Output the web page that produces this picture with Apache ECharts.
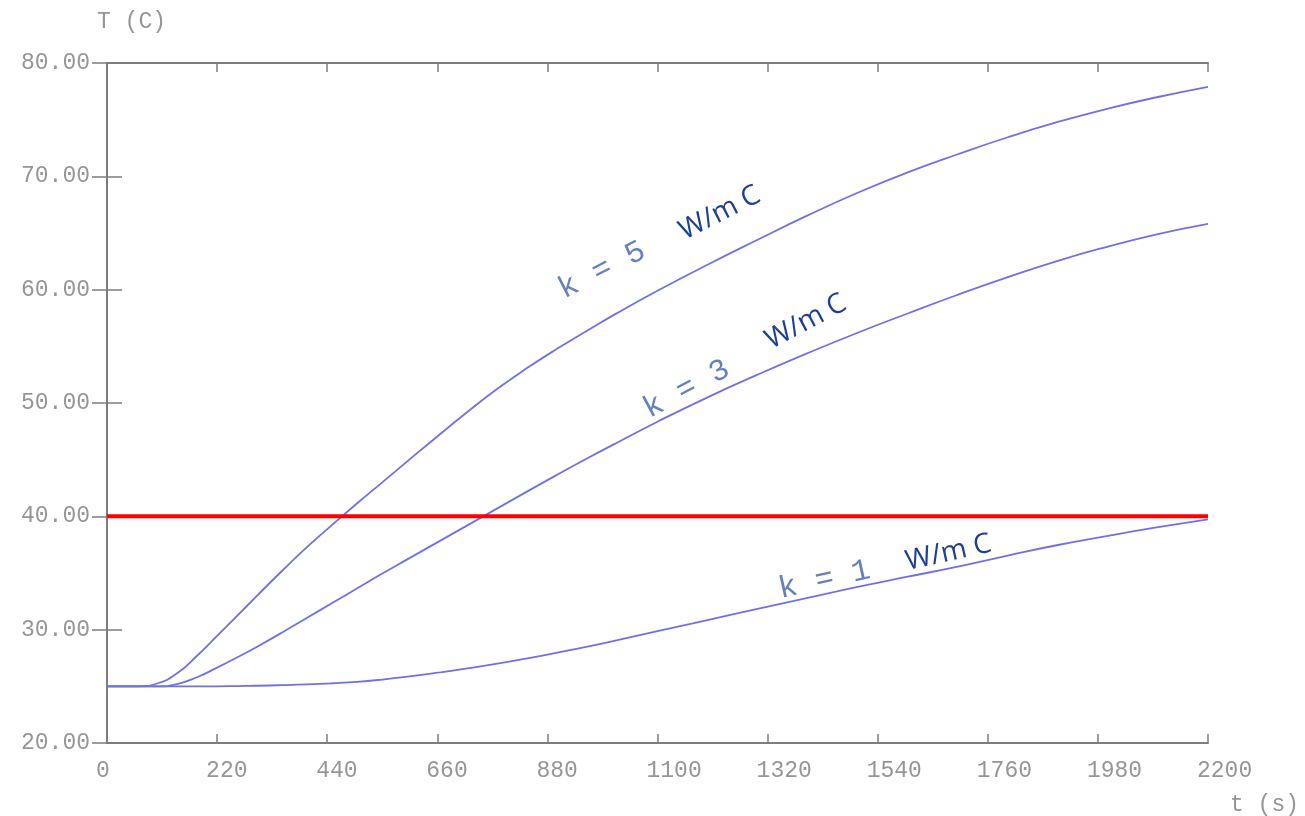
<!DOCTYPE html>
<html>
<head>
<meta charset="utf-8">
<script src="https://cdn.jsdelivr.net/npm/echarts@6/dist/echarts.min.js"></script>
<style>
  html, body { margin: 0; padding: 0; background: #ffffff; }
  #chart { width: 1305px; height: 816px; }
</style>
</head>
<body>
<div id="chart"></div>
<script>
// Time samples (s) shared by the three conductivity curves
const timeS = [0, 60, 100, 140, 180, 220, 260, 300, 350, 400, 450, 500, 550, 600, 660, 720, 780, 840, 900, 960, 1020, 1100, 1200, 1300, 1400, 1500, 1600, 1700, 1800, 1900, 2000, 2100, 2200];

// Temperature (C) for k = 5, 3 and 1 W/m C
const tempK5 = [25, 25, 25.25, 26.15, 27.7, 29.45, 31.22, 33.0, 35.2, 37.3, 39.25, 41.15, 43.0, 44.85, 47.05, 49.2, 51.25, 53.1, 54.8, 56.4, 57.95, 59.9, 62.2, 64.4, 66.55, 68.55, 70.35, 71.95, 73.45, 74.8, 75.98, 77.0, 77.9];
const tempK3 = [25, 25, 25, 25.2, 25.8, 26.65, 27.55, 28.5, 29.75, 31.05, 32.35, 33.65, 34.95, 36.2, 37.7, 39.2, 40.7, 42.2, 43.68, 45.12, 46.52, 48.35, 50.5, 52.5, 54.4, 56.2, 57.9, 59.55, 61.1, 62.55, 63.8, 64.9, 65.8];
const tempK1 = [25, 25, 25, 25, 25, 25, 25.02, 25.05, 25.1, 25.17, 25.27, 25.4, 25.6, 25.85, 26.2, 26.58, 27.0, 27.47, 27.97, 28.5, 29.07, 29.87, 30.85, 31.83, 32.8, 33.77, 34.67, 35.56, 36.54, 37.47, 38.28, 39.04, 39.74];

// Threshold temperature (C)
const thresholdT = 40;

// Curve names and their annotation text
const curveNames = ['k = 5', 'k = 3', 'k = 1'];
const unitText = 'W/m C';

// Axis ranges and tick steps
const xRange = [0, 2200], xStep = 220;
const yRange = [20, 80], yStep = 10;
const xName = 't (s)';
const yName = 'T (C)';

const pairs = (vals) => timeS.map((t, i) => [t, vals[i]]);

const axisGray = '#7d7d7d';
const labelGray = '#969696';
const monoFont = 'Liberation Mono';
const curveColor = '#7070e8';

const chart = echarts.init(document.getElementById('chart'), null, { renderer: 'canvas' });

const curveSeries = (name, vals) => ({
  name: name,
  type: 'line',
  data: pairs(vals),
  showSymbol: false,
  smooth: true,
  lineStyle: { color: curveColor, width: 1.8 },
  z: 2,
  silent: true
});

chart.setOption({
  animation: false,
  backgroundColor: '#ffffff',
  grid: { left: 107, right: 97, top: 63, bottom: 72 },
  xAxis: [
    {
      type: 'value', min: xRange[0], max: xRange[1], interval: xStep,
      name: xName, nameLocation: 'end', nameGap: 22,
      nameTextStyle: { fontFamily: monoFont, fontSize: 23, color: labelGray, align: 'left', verticalAlign: 'top', padding: [50, 0, 0, 0] },
      axisLine: { show: true, lineStyle: { color: axisGray, width: 2 } },
      axisTick: { show: true, inside: true, length: 9, lineStyle: { color: axisGray, width: 1.5 } },
      axisLabel: {
        fontFamily: monoFont, fontSize: 23, color: labelGray, margin: 16,
        align: 'left', padding: [0, 0, 0, -11],
        formatter: (v) => String(v)
      },
      splitLine: { show: false }
    },
    {
      type: 'value', position: 'top', min: xRange[0], max: xRange[1], interval: xStep,
      axisLine: { show: true, lineStyle: { color: axisGray, width: 2 } },
      axisTick: { show: true, inside: true, length: 9, lineStyle: { color: axisGray, width: 1.5 } },
      axisLabel: { show: false },
      splitLine: { show: false }
    }
  ],
  yAxis: [
    {
      type: 'value', min: yRange[0], max: yRange[1], interval: yStep,
      name: yName, nameLocation: 'end', nameGap: 30,
      nameTextStyle: { fontFamily: monoFont, fontSize: 23, color: labelGray, align: 'left', padding: [0, 0, 0, -10] },
      axisLine: { show: true, lineStyle: { color: axisGray, width: 2 } },
      axisTick: { show: true, inside: true, length: 15, lineStyle: { color: axisGray, width: 1.5 } },
      axisLabel: {
        fontFamily: monoFont, fontSize: 23, color: labelGray, margin: 17,
        padding: [0, 0, 12, 0],
        formatter: (v) => v.toFixed(2)
      },
      splitLine: { show: false }
    },
    {
      type: 'value', position: 'right', min: yRange[0], max: yRange[1], interval: yStep,
      axisLine: { show: true, lineStyle: { color: axisGray, width: 2 } },
      axisTick: { show: true, inside: true, length: 15, lineStyle: { color: axisGray, width: 1.5 } },
      axisLabel: { show: false },
      splitLine: { show: false }
    }
  ],
  series: [
    curveSeries(curveNames[0], tempK5),
    curveSeries(curveNames[1], tempK3),
    curveSeries(curveNames[2], tempK1),
    {
      name: 'threshold',
      type: 'line',
      data: [[xRange[0], thresholdT], [xRange[1], thresholdT]],
      showSymbol: false,
      lineStyle: { color: '#ff0000', width: 4 },
      z: 5,
      silent: true
    }
  ]
});

// Rotated annotations that run along each curve
const annotations = [
  { text: curveNames[0], at: [915, 59.1], angle: 27, unitOffset: [134, 0] },
  { text: curveNames[1], at: [1085, 48.55], angle: 28, unitOffset: [140, -6] },
  { text: curveNames[2], at: [1347, 32.69], angle: 12.5, unitOffset: [130, -2] }
];

const graphics = annotations.map((a) => {
  const p = chart.convertToPixel({ xAxisIndex: 0, yAxisIndex: 0 }, a.at);
  return {
    type: 'group',
    x: p[0], y: p[1],
    rotation: a.angle * Math.PI / 180,
    silent: true,
    children: [
      {
        type: 'text', x: 0, y: 6,
        style: {
          text: a.text, font: '31px "Liberation Mono"', fill: '#6680c0',
          align: 'left', textAlign: 'left', verticalAlign: 'bottom', textVerticalAlign: 'bottom'
        }
      },
      {
        type: 'text', x: a.unitOffset[0], y: a.unitOffset[1] + 7,
        style: {
          text: unitText, font: '28px "Open Sans"', fill: '#1e3f96',
          align: 'left', textAlign: 'left', verticalAlign: 'bottom', textVerticalAlign: 'bottom'
        }
      }
    ]
  };
});

chart.setOption({ graphic: graphics });
</script>
</body>
</html>
